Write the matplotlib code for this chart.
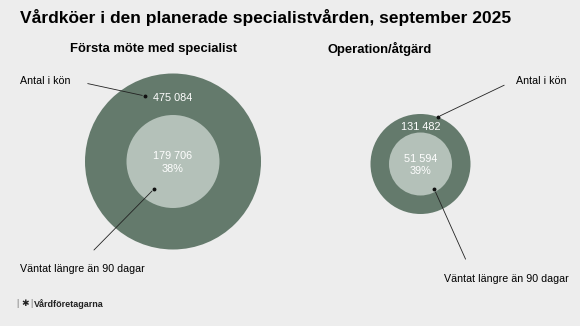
import matplotlib
matplotlib.use("Agg")
import matplotlib.pyplot as plt
from matplotlib.patches import Circle

plt.rcParams["font.family"] = ["Liberation Sans", "DejaVu Sans"]

g_bg = "#ededed"
g_outer = "#647a6c"
g_inner = "#b4c1b9"

title = "Vårdköer i den planerade specialistvården, september 2025"
categories = ["Första möte med specialist", "Operation/åtgärd"]
total_queue = [475084, 131482]
waited_90 = [179706, 51594]
label_total = "Antal i kön"
label_waited = "Väntat längre än 90 dagar"

# layout, in pixels of the 580x326 picture
centers = [(173, 161.5), (420.5, 164)]
outer_r = [88, 50]
inner_r = [46.5, 31.5]
sub_pos = [(154, 49), (380, 49)]


def fmt(v):
    return f"{v:,}".replace(",", " ")


def pointer(ax, tip, tail):
    ax.annotate("", xy=tip, xytext=tail,
                arrowprops=dict(arrowstyle="-", color="#222222", lw=0.6), zorder=4)
    ax.plot(tip[0], tip[1], "o", color="#111111", ms=1.8, zorder=5)


def main():
    fig = plt.figure(figsize=(5.8, 3.26), dpi=100)
    fig.patch.set_facecolor(g_bg)
    ax = fig.add_axes([0, 0, 1, 1])
    ax.set_xlim(0, 580)
    ax.set_ylim(326, 0)
    ax.set_aspect("equal")
    ax.axis("off")

    ax.text(266, 17, title, ha="center", va="center", fontsize=12.5, fontweight="bold")

    for i in range(2):
        cx, cy = centers[i]
        ax.add_patch(Circle((cx, cy), outer_r[i], color=g_outer, lw=0, zorder=1))
        ax.add_patch(Circle((cx, cy), inner_r[i], color=g_inner, lw=0, zorder=2))
        ax.text(sub_pos[i][0], sub_pos[i][1], categories[i], ha="center", va="center",
                fontsize=9.4, fontweight="bold")
        share = round(100 * waited_90[i] / total_queue[i])
        ty = cy - (outer_r[i] + inner_r[i]) / 2 + 3.5
        ax.text(cx, ty, fmt(total_queue[i]), ha="center", va="center", color="white", fontsize=7.8)
        ax.text(cx, cy - 5.5, fmt(waited_90[i]), ha="center", va="center", color="white", fontsize=7.8)
        ax.text(cx, cy + 7.5, f"{share}%", ha="center", va="center", color="white", fontsize=7.8)

    # annotations, left
    ax.text(20, 80.7, label_total, ha="left", va="center", fontsize=7.7)
    pointer(ax, (145, 96), (85, 83))
    ax.text(20, 269, label_waited, ha="left", va="center", fontsize=7.7)
    pointer(ax, (154, 189), (92, 252))

    # annotations, right
    ax.text(566, 80.7, label_total, ha="right", va="center", fontsize=7.7)
    pointer(ax, (437.7, 117), (506.7, 84))
    ax.text(569, 279, label_waited, ha="right", va="center", fontsize=7.7)
    pointer(ax, (434.3, 189.3), (466.7, 261.7))

    # logo
    ax.text(16, 304, "|", ha="left", va="center", fontsize=6.5, color="#777777")
    ax.text(21, 304, "✱", ha="left", va="center", fontsize=6.5, color="#222222",
            family=["DejaVu Sans"])
    ax.text(30, 304, "|", ha="left", va="center", fontsize=6.5, color="#777777")
    ax.text(34, 304, "Vårdföretagarna", ha="left", va="center", fontsize=6.5,
            fontweight="bold", color="#222222")

    plt.savefig("out.png", dpi=100, facecolor=g_bg)


if __name__ == "__main__":
    main()
